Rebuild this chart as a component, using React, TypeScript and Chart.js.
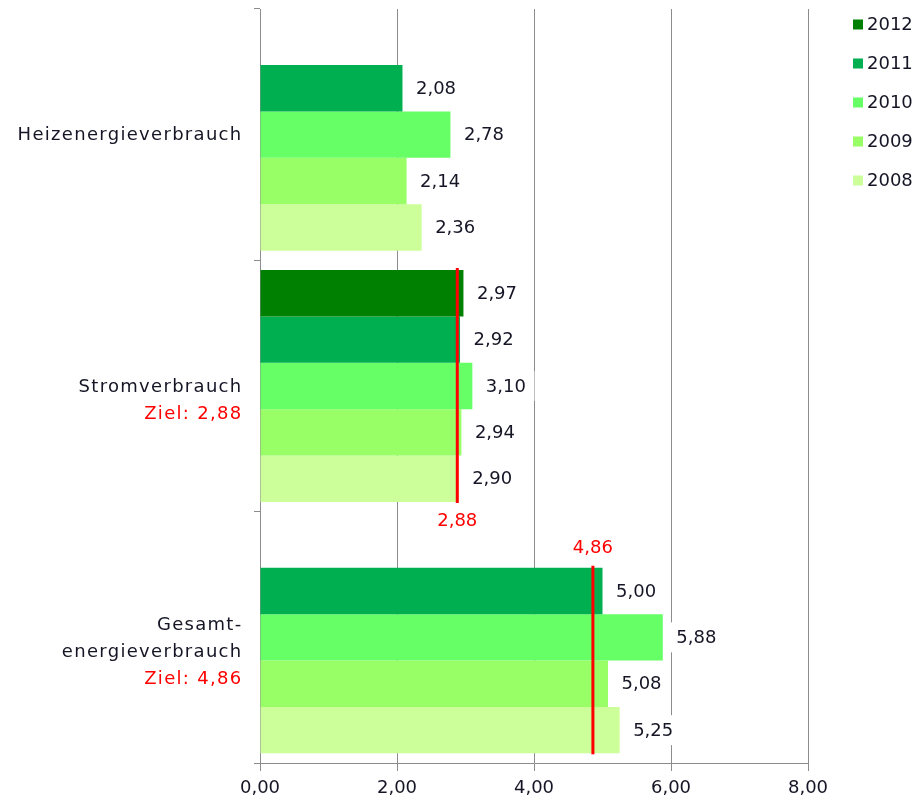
import React, { useEffect, useRef } from 'react';
import { Chart, registerables } from 'chart.js';
Chart.register(...registerables);

const categories = ['Heizenergieverbrauch', 'Stromverbrauch', 'Gesamtenergieverbrauch'];
const categoryLines = [['Heizenergieverbrauch'], ['Stromverbrauch'], ['Gesamt-', 'energieverbrauch']];
const years = ['2012', '2011', '2010', '2009', '2008'];
const v2012 = [null, 2.97, null];
const v2011 = [2.08, 2.92, 5.0];
const v2010 = [2.78, 3.1, 5.88];
const v2009 = [2.14, 2.94, 5.08];
const v2008 = [2.36, 2.9, 5.25];
const targets = [null, 2.88, 4.86];
const targetLabelSide = [null, 'below', 'above'];
const xTicks = [0, 2, 4, 6, 8];
const colors = ['#008000', '#00B050', '#66FF66', '#99FF66', '#CCFF99'];

const FONT = '"DejaVu Sans", Verdana, sans-serif';
const TEXT = '#151525';
const fmt = (v: number) => v.toFixed(2).replace('.', ',');

const overlay = {
  id: 'overlay',
  afterDatasetsDraw(chart: any) {
    const ctx = chart.ctx;
    const xs = chart.scales.x;
    ctx.save();
    ctx.font = `18px ${FONT}`;
    ctx.textBaseline = 'middle';
    ctx.textAlign = 'left';
    chart.data.datasets.forEach((ds: any, di: number) => {
      const meta = chart.getDatasetMeta(di);
      ds.data.forEach((v: any, i: number) => {
        if (v == null) return;
        const el = meta.data[i];
        const t = fmt(v);
        const w = ctx.measureText(t).width;
        ctx.fillStyle = '#ffffff';
        ctx.fillRect(el.x + 5, el.y - 15, w + 17, 30);
        ctx.fillStyle = TEXT;
        ctx.fillText(t, el.x + 13.5, el.y + 1);
      });
    });
    targets.forEach((t, i) => {
      if (t == null) return;
      let top = Infinity;
      let bottom = -Infinity;
      chart.data.datasets.forEach((ds: any, di: number) => {
        if (ds.data[i] == null) return;
        const el = chart.getDatasetMeta(di).data[i];
        top = Math.min(top, el.y - el.height / 2);
        bottom = Math.max(bottom, el.y + el.height / 2);
      });
      const x = xs.getPixelForValue(t);
      ctx.strokeStyle = '#ff0000';
      ctx.lineWidth = 3;
      ctx.beginPath();
      ctx.moveTo(x, top - 2);
      ctx.lineTo(x, bottom + 1);
      ctx.stroke();
      ctx.fillStyle = '#ff0000';
      ctx.textAlign = 'center';
      const ly = targetLabelSide[i] === 'below' ? bottom + 19 : top - 19;
      ctx.fillText(fmt(t), x, ly);
      ctx.textAlign = 'left';
    });
    ctx.restore();
  },
  afterDraw(chart: any) {
    const ctx = chart.ctx;
    const ys = chart.scales.y;
    ctx.save();
    ctx.font = `18px ${FONT}`;
    ctx.textBaseline = 'middle';
    ctx.textAlign = 'right';
    (ctx as any).letterSpacing = '1.3px';
    categoryLines.forEach((lines, i) => {
      const c = ys.getPixelForValue(i);
      const lh = 27;
      const start = c - ((lines.length - 1) * lh) / 2;
      ctx.fillStyle = TEXT;
      lines.forEach((l, k) => ctx.fillText(l, 242.5, start + k * lh + 1));
      if (targets[i] != null) {
        ctx.fillStyle = '#ff0000';
        ctx.fillText('Ziel: ' + fmt(targets[i] as number), 242.5, start + lines.length * lh + 1);
      }
    });
    (ctx as any).letterSpacing = '0px';
    ctx.textAlign = 'left';
    chart.data.datasets.forEach((ds: any, di: number) => {
      const y = 24.5 + di * 39;
      ctx.fillStyle = ds.backgroundColor;
      ctx.fillRect(853, y - 5, 10, 10);
      ctx.fillStyle = TEXT;
      ctx.fillText(ds.label, 867, y + 1);
    });
    ctx.restore();
  },
};

export default function App() {
  const ref = useRef<HTMLCanvasElement>(null);
  useEffect(() => {
    document.body.style.margin = '0';
    document.documentElement.style.overflow = 'hidden';
    document.body.style.overflow = 'hidden';
    const series = [v2012, v2011, v2010, v2009, v2008];
    const chart = new Chart(ref.current as HTMLCanvasElement, {
      type: 'bar',
      data: {
        labels: categories,
        datasets: years.map((y, i) => ({
          label: y,
          data: series[i] as any,
          backgroundColor: colors[i],
          borderWidth: 0,
          categoryPercentage: 0.923,
          barPercentage: 1,
        })),
      },
      options: {
        indexAxis: 'y',
        animation: false,
        responsive: false,
        devicePixelRatio: 1,
        layout: { padding: { top: 9, right: 108, left: 0, bottom: 0 } },
        plugins: { legend: { display: false }, tooltip: { enabled: false } },
        scales: {
          x: {
            min: 0,
            max: 8,
            afterBuildTicks: (s: any) => {
              s.ticks = xTicks.map((v) => ({ value: v }));
            },
            ticks: {
              callback: (v: any) => fmt(Number(v)),
              font: { family: FONT, size: 18 },
              color: TEXT,
              padding: 7,
              maxRotation: 0,
            },
            grid: { color: '#8c8c8c', lineWidth: 1, tickLength: 8, drawTicks: true },
            border: { display: true, color: '#8c8c8c' },
            afterFit: (s: any) => {
              s.height = 37;
            },
          },
          y: {
            ticks: { display: false },
            grid: { drawOnChartArea: false, offset: true, tickLength: 6, color: '#8c8c8c' },
            border: { display: true, color: '#8c8c8c' },
            afterFit: (s: any) => {
              s.width = 260;
            },
          },
        },
      },
      plugins: [overlay],
    });
    return () => chart.destroy();
  }, []);
  return (
    <div style={{ width: 916, height: 800, background: '#fff' }}>
      <canvas ref={ref} width={916} height={800} style={{ display: 'block' }} />
    </div>
  );
}
